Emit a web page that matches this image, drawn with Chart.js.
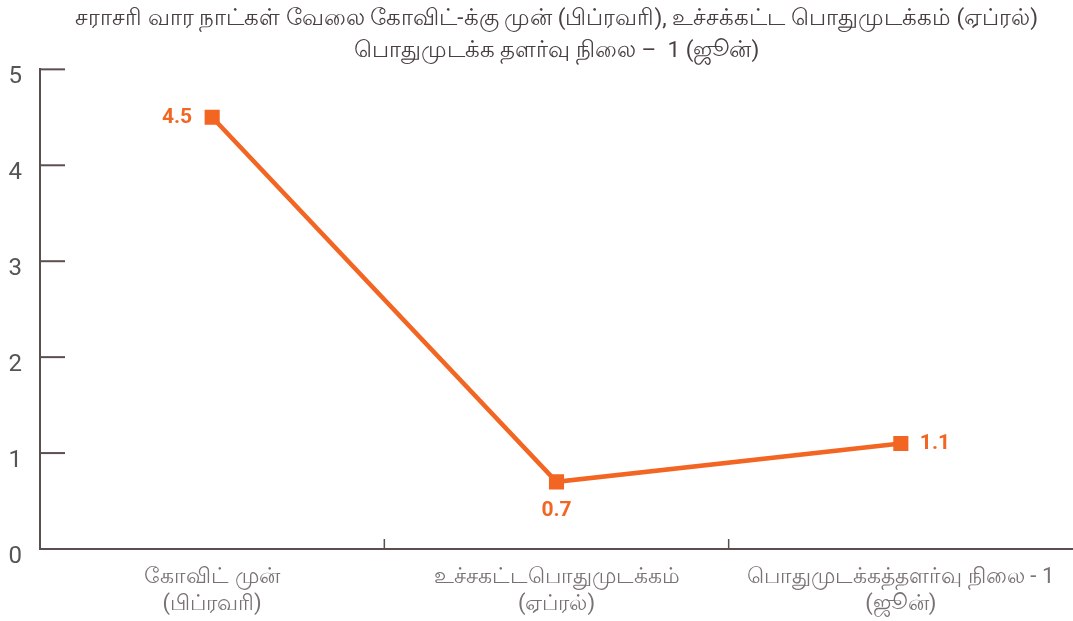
<!DOCTYPE html>
<html>
<head>
<meta charset="utf-8">
<script src="https://cdn.jsdelivr.net/npm/chart.js@4"></script>
<style>
    html, body { margin: 0; padding: 0; background: #fff; }
    #wrap { width: 1073px; height: 621px; position: relative; }
</style>
</head>
<body>
<div id="wrap"><canvas id="workChart"></canvas></div>
<script>
const categories = [
    ['கோவிட் முன்', '(பிப்ரவரி)'],
    ['உச்சகட்டபொதுமுடக்கம்', '(ஏப்ரல்)'],
    ['பொதுமுடக்கத்தளர்வு நிலை - 1', '(ஜூன்)']
];
const workDays = [4.5, 0.7, 1.1];
const yTicks = [0, 1, 2, 3, 4, 5];
const titleLines = [
    'சராசரி வார நாட்கள் வேலை கோவிட்-க்கு முன் (பிப்ரவரி), உச்சக்கட்ட பொதுமுடக்கம் (ஏப்ரல்)',
    'பொதுமுடக்க தளர்வு நிலை –  1 (ஜூன்)'
];

const orange = '#f26522';
const axisColor = '#5b4f4d';
const fontFamily = "Roboto, 'Noto Sans', sans-serif";

// short tick marks drawn inside the plot area, plus value labels
const innerTicks = {
    id: 'innerTicks',
    afterDraw(chart) {
        const ctx = chart.ctx;
        const x = chart.scales.x;
        const y = chart.scales.y;
        ctx.save();
        ctx.strokeStyle = axisColor;
        ctx.lineWidth = 2;
        yTicks.forEach(v => {
            const py = y.getPixelForValue(v);
            ctx.beginPath();
            ctx.moveTo(x.left, py);
            ctx.lineTo(x.left + 25, py);
            ctx.stroke();
        });
        ctx.lineWidth = 1.5;
        for (let i = 1; i < categories.length; i++) {
            const px = (x.getPixelForValue(i - 1) + x.getPixelForValue(i)) / 2;
            ctx.beginPath();
            ctx.moveTo(px, y.bottom);
            ctx.lineTo(px, y.bottom - 10);
            ctx.stroke();
        }

        // data labels
        const meta = chart.getDatasetMeta(0);
        ctx.fillStyle = orange;
        ctx.font = "bold 21px " + fontFamily;
        ctx.textBaseline = 'middle';
        const place = ['left', 'below', 'right'];
        meta.data.forEach((pt, i) => {
            const txt = workDays[i].toFixed(1);
            if (place[i] === 'left') {
                ctx.textAlign = 'right';
                ctx.fillText(txt, pt.x - 20, pt.y);
            } else if (place[i] === 'right') {
                ctx.textAlign = 'left';
                ctx.fillText(txt, pt.x + 19, pt.y);
            } else {
                ctx.textAlign = 'center';
                ctx.fillText(txt, pt.x, pt.y + 29);
            }
        });
        ctx.restore();
    }
};

new Chart(document.getElementById('workChart').getContext('2d'), {
    type: 'line',
    data: {
        labels: categories,
        datasets: [{
            label: 'வேலை நாட்கள்',
            data: workDays,
            borderColor: orange,
            backgroundColor: orange,
            borderWidth: 4.5,
            pointStyle: 'rect',
            pointRadius: 7.5,
            pointHoverRadius: 7.5,
            tension: 0
        }]
    },
    options: {
        responsive: true,
        maintainAspectRatio: false,
        animation: false,
        layout: { autoPadding: false, padding: 0 },
        plugins: {
            legend: { display: false },
            tooltip: { enabled: false },
            title: {
                display: true,
                text: titleLines,
                color: '#4a4040',
                fullSize: false,
                font: { family: fontFamily, size: 22.5, weight: 'normal', lineHeight: 1.43 },
                padding: { top: 3, bottom: 2 }
            }
        },
        scales: {
            x: {
                offset: true,
                grid: { display: false, drawTicks: false },
                border: { display: true, color: axisColor, width: 2 },
                afterFit(scale) { scale.height = 72; },
                ticks: {
                    color: '#7a7272',
                    padding: 15,
                    maxRotation: 0,
                    font: { family: fontFamily, size: 22, lineHeight: 1.23 }
                }
            },
            y: {
                min: 0,
                max: 5,
                grid: { display: false, drawTicks: false },
                border: { display: true, color: axisColor, width: 2 },
                afterFit(scale) { scale.width = 40; },
                ticks: {
                    stepSize: 1,
                    color: '#555',
                    padding: 18,
                    labelOffset: 8,
                    font: { family: fontFamily, size: 24 }
                }
            }
        }
    },
    plugins: [innerTicks]
});
</script>
</body>
</html>
